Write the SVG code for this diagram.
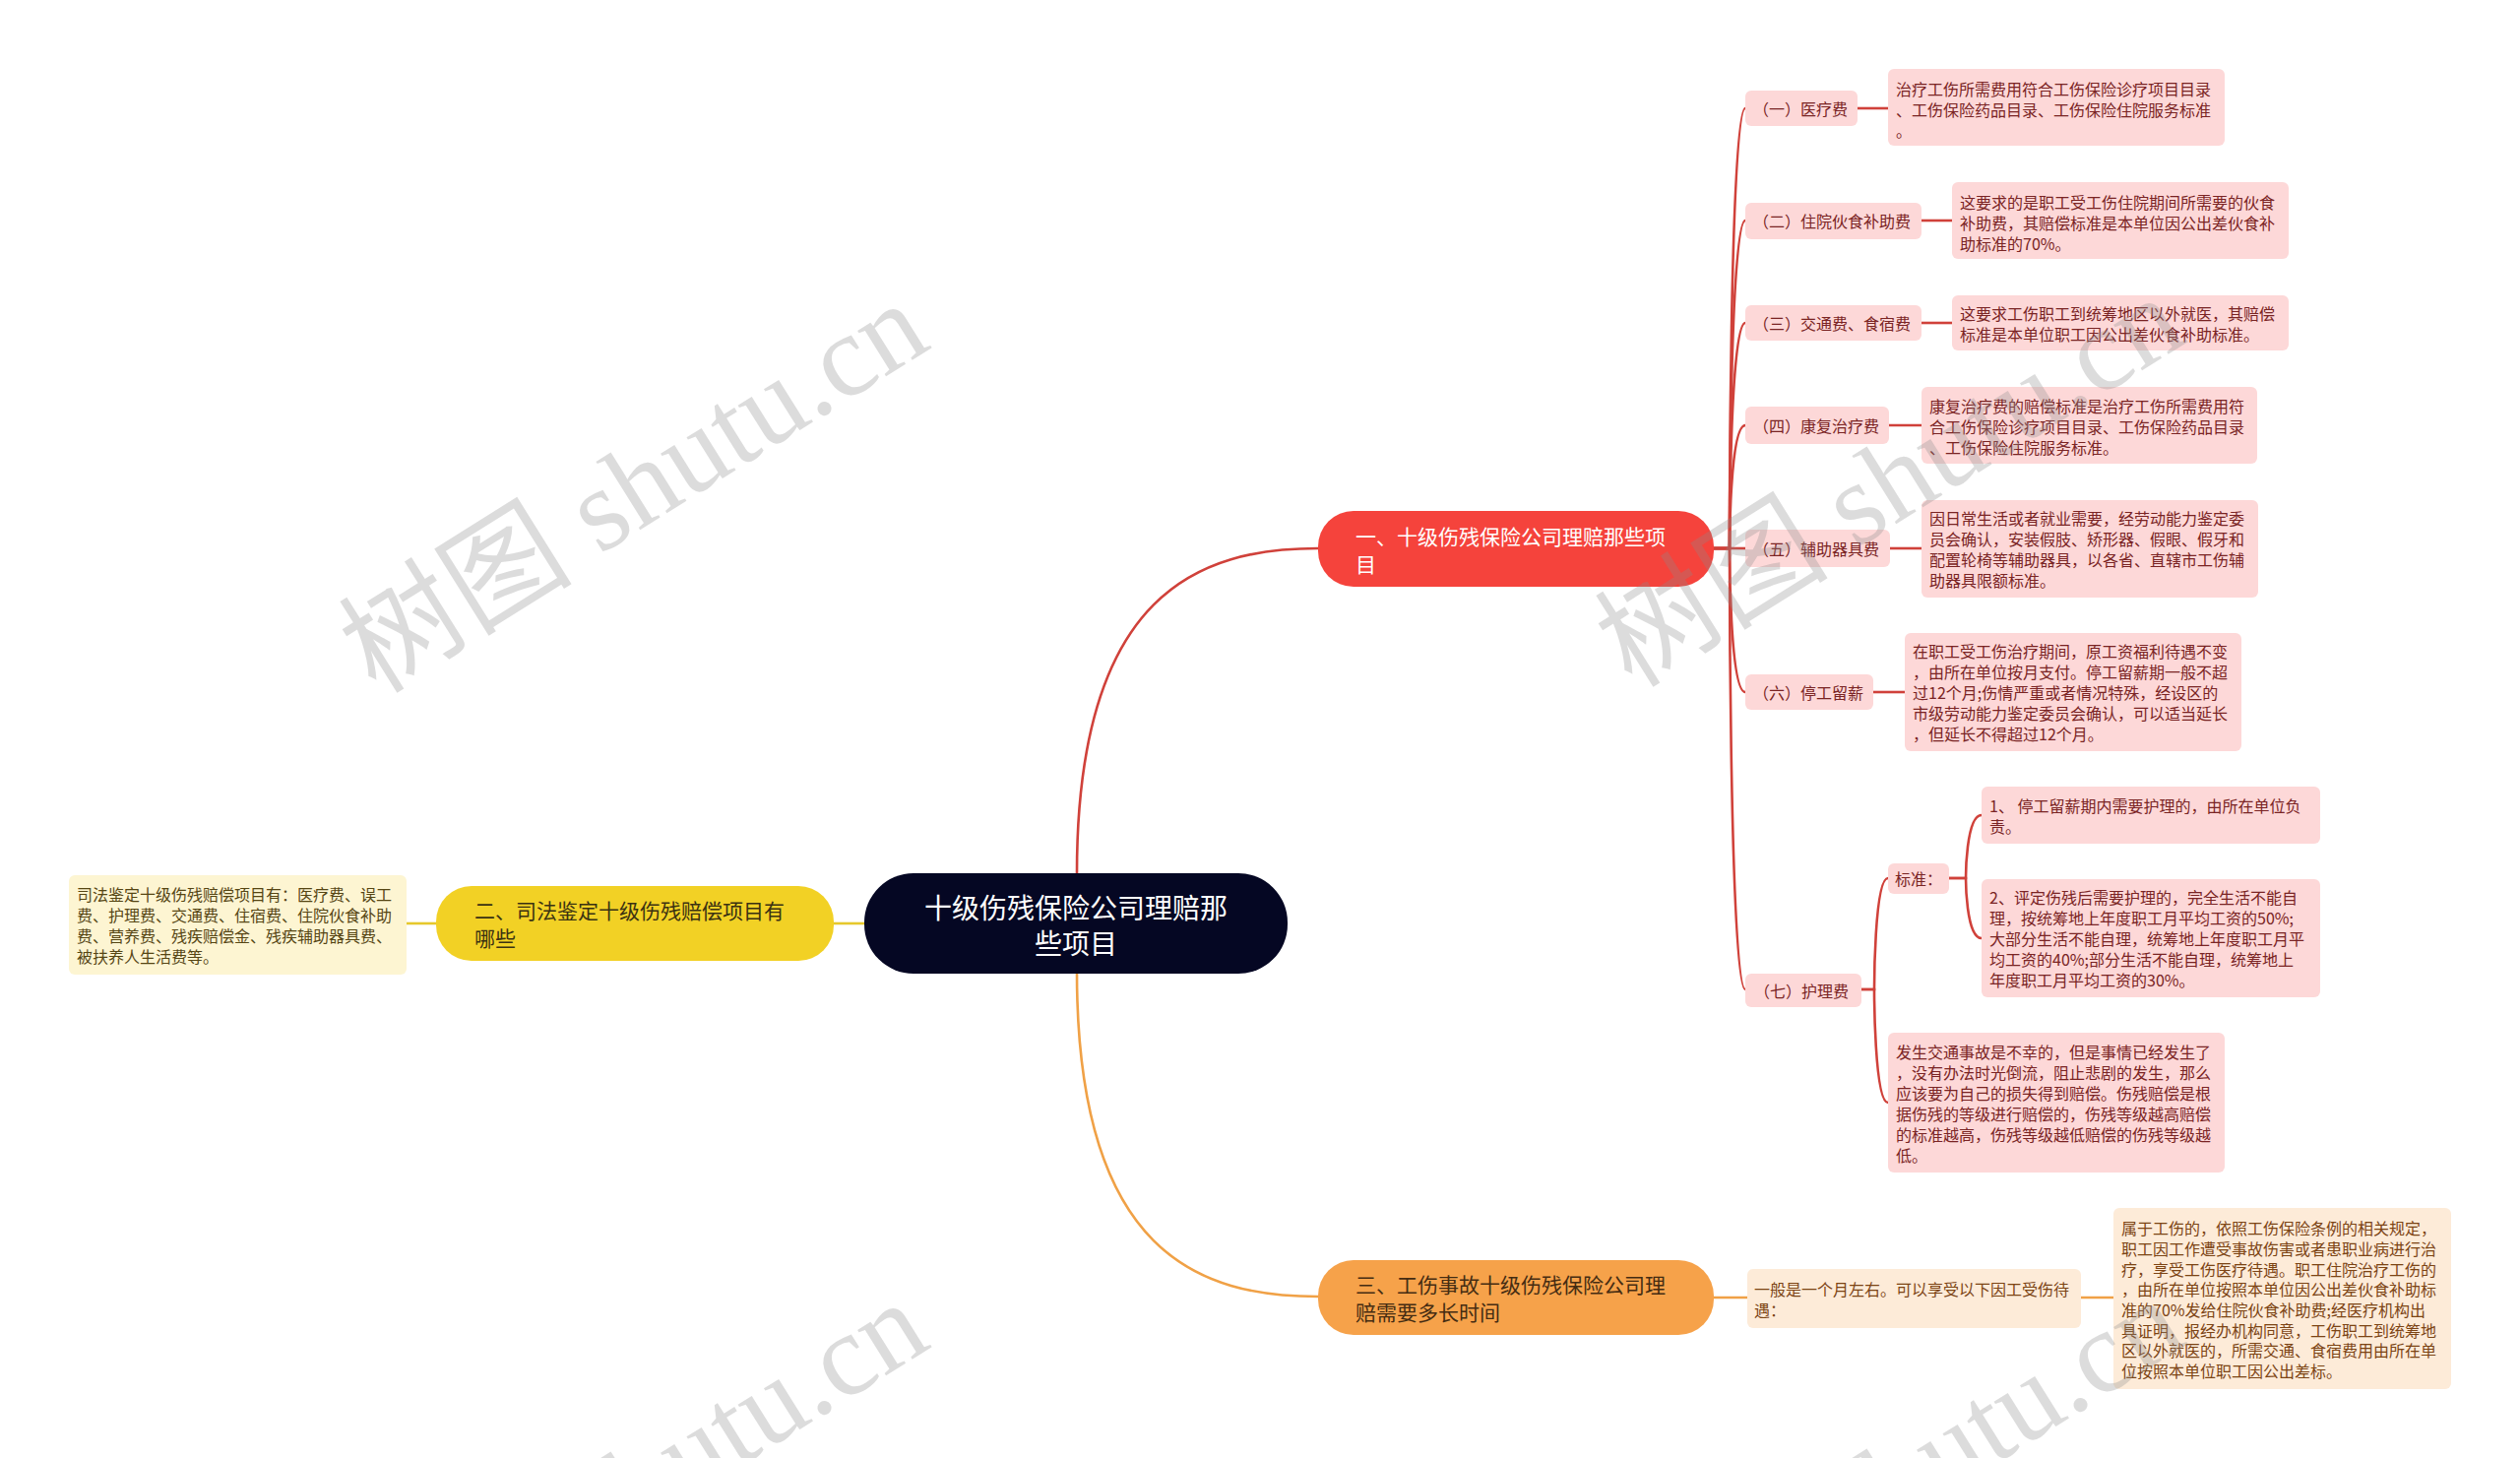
<svg xmlns="http://www.w3.org/2000/svg" width="2560" height="1481" viewBox="0 0 2560 1481">
<style>
text{font-family:"Noto Sans CJK SC","Noto Sans",sans-serif;dominant-baseline:central}
.pk{fill:#fdd8d8}
.pt{fill:#7a2424;font-size:16px}
.yb{fill:#fdf5d2}
.yt{fill:#564614;font-size:16px}
.ob{fill:#fdebd8}
.ot{fill:#7c4414;font-size:16px}
.cr{fill:none;stroke:#d0413a;stroke-width:2.6}
.co{fill:none;stroke:#f0a146;stroke-width:2.6}
.cy{fill:none;stroke:#e6c82c;stroke-width:2.6}
.wm{font-family:"Liberation Serif","Noto Sans CJK SC",serif;font-size:119px;fill:#8a8a8a;fill-opacity:0.3;dominant-baseline:auto}
</style>
<rect width="2560" height="1481" fill="#ffffff"/>
<g id="connectors">
<path class="cr" d="M1094,887 C1094,600 1220,557 1339,557"/>
<path class="co" d="M1094,988 C1094,1275 1220,1317 1339,1317"/>
<path class="cy" d="M878,938 H846"/>
<path class="cy" d="M443,938 H413"/>
<path class="cr" d="M1741,557 H1757 C1757,557 1757,110 1773,110"/>
<path class="cr" d="M1741,557 H1757 C1757,557 1757,224 1773,224"/>
<path class="cr" d="M1741,557 H1757 C1757,557 1757,328 1773,328"/>
<path class="cr" d="M1741,557 H1757 C1757,557 1757,432 1773,432"/>
<path class="cr" d="M1741,557 H1773"/>
<path class="cr" d="M1741,557 H1757 C1757,557 1757,703 1773,703"/>
<path class="cr" d="M1741,557 H1757 C1757,557 1757,1005 1773,1005"/>
<path class="cr" d="M1887,110 H1918"/>
<path class="cr" d="M1952,224 H1983"/>
<path class="cr" d="M1952,328 H1983"/>
<path class="cr" d="M1919,432 H1952"/>
<path class="cr" d="M1920,557 H1952"/>
<path class="cr" d="M1903,703 H1935"/>
<path class="cr" d="M1891,1005 H1904 C1904,1005 1904,892 1918,892"/>
<path class="cr" d="M1891,1005 H1904 C1904,1005 1904,1120 1918,1120"/>
<path class="cr" d="M1980,892 H1997 C1997,892 1997,828 2013,828"/>
<path class="cr" d="M1980,892 H1997 C1997,892 1997,953 2013,953"/>
<path class="co" d="M1740,1318 H1775"/>
<path class="co" d="M2114,1318 H2147"/>
</g>
<g id="root">
<rect x="878" y="887" width="430" height="102" rx="50" fill="#050723"/>
<text x="1093" y="921" text-anchor="middle" fill="#ffffff" style="font-size:28px">十级伤残保险公司理赔那</text>
<text x="1093" y="957" text-anchor="middle" fill="#ffffff" style="font-size:28px">些项目</text>
</g>
<g id="n1">
<rect x="1339" y="519" width="402" height="77" rx="36" fill="#f5433c"/>
<text x="1377" y="544" fill="#ffffff" style="font-size:21px">一、十级伤残保险公司理赔那些项</text>
<text x="1377" y="572" fill="#ffffff" style="font-size:21px">目</text>
</g>
<g id="n2">
<rect x="443" y="900" width="404" height="76" rx="36" fill="#f2d125"/>
<text x="482" y="924" fill="#3b3212" style="font-size:21px">二、司法鉴定十级伤残赔偿项目有</text>
<text x="482" y="952" fill="#3b3212" style="font-size:21px">哪些</text>
</g>
<g id="n3">
<rect x="1339" y="1280" width="402" height="76" rx="36" fill="#f6a24a"/>
<text x="1377" y="1304" fill="#452c12" style="font-size:21px">三、工伤事故十级伤残保险公司理</text>
<text x="1377" y="1332" fill="#452c12" style="font-size:21px">赔需要多长时间</text>
</g>
<g id="n2-detail">
<rect class="yb" x="70" y="889" width="343" height="101" rx="6"/>
<text class="yt" x="78" y="908">司法鉴定十级伤残赔偿项目有：医疗费、误工</text>
<text class="yt" x="78" y="929">费、护理费、交通费、住宿费、住院伙食补助</text>
<text class="yt" x="78" y="950">费、营养费、残疾赔偿金、残疾辅助器具费、</text>
<text class="yt" x="78" y="971">被扶养人生活费等。</text>
</g>
<g id="c1">
<rect class="pk" x="1773" y="92" width="114" height="36" rx="6"/>
<text class="pt" x="1781" y="110">（一）医疗费</text>
</g>
<g id="c1-detail">
<rect class="pk" x="1918" y="70" width="342" height="78" rx="6"/>
<text class="pt" x="1926" y="90">治疗工伤所需费用符合工伤保险诊疗项目目录</text>
<text class="pt" x="1926" y="111">、工伤保险药品目录、工伤保险住院服务标准</text>
<text class="pt" x="1926" y="132">。</text>
</g>
<g id="c2">
<rect class="pk" x="1773" y="206" width="179" height="37" rx="6"/>
<text class="pt" x="1781" y="224">（二）住院伙食补助费</text>
</g>
<g id="c2-detail">
<rect class="pk" x="1983" y="185" width="342" height="78" rx="6"/>
<text class="pt" x="1991" y="205">这要求的是职工受工伤住院期间所需要的伙食</text>
<text class="pt" x="1991" y="226">补助费，其赔偿标准是本单位因公出差伙食补</text>
<text class="pt" x="1991" y="247">助标准的70%。</text>
</g>
<g id="c3">
<rect class="pk" x="1773" y="310" width="179" height="36" rx="6"/>
<text class="pt" x="1781" y="328">（三）交通费、食宿费</text>
</g>
<g id="c3-detail">
<rect class="pk" x="1983" y="300" width="342" height="56" rx="6"/>
<text class="pt" x="1991" y="318">这要求工伤职工到统筹地区以外就医，其赔偿</text>
<text class="pt" x="1991" y="339">标准是本单位职工因公出差伙食补助标准。</text>
</g>
<g id="c4">
<rect class="pk" x="1773" y="413" width="146" height="38" rx="6"/>
<text class="pt" x="1781" y="432">（四）康复治疗费</text>
</g>
<g id="c4-detail">
<rect class="pk" x="1952" y="393" width="341" height="78" rx="6"/>
<text class="pt" x="1960" y="412">康复治疗费的赔偿标准是治疗工伤所需费用符</text>
<text class="pt" x="1960" y="433">合工伤保险诊疗项目目录、工伤保险药品目录</text>
<text class="pt" x="1960" y="454">、工伤保险住院服务标准。</text>
</g>
<g id="c5">
<rect class="pk" x="1773" y="538" width="147" height="38" rx="6"/>
<text class="pt" x="1781" y="557">（五）辅助器具费</text>
</g>
<g id="c5-detail">
<rect class="pk" x="1952" y="508" width="342" height="99" rx="6"/>
<text class="pt" x="1960" y="526">因日常生活或者就业需要，经劳动能力鉴定委</text>
<text class="pt" x="1960" y="547">员会确认，安装假肢、矫形器、假眼、假牙和</text>
<text class="pt" x="1960" y="568">配置轮椅等辅助器具，以各省、直辖市工伤辅</text>
<text class="pt" x="1960" y="589">助器具限额标准。</text>
</g>
<g id="c6">
<rect class="pk" x="1773" y="685" width="130" height="36" rx="6"/>
<text class="pt" x="1781" y="703">（六）停工留薪</text>
</g>
<g id="c6-detail">
<rect class="pk" x="1935" y="643" width="342" height="120" rx="6"/>
<text class="pt" x="1943" y="661">在职工受工伤治疗期间，原工资福利待遇不变</text>
<text class="pt" x="1943" y="682">，由所在单位按月支付。停工留薪期一般不超</text>
<text class="pt" x="1943" y="703">过12个月;伤情严重或者情况特殊，经设区的</text>
<text class="pt" x="1943" y="724">市级劳动能力鉴定委员会确认，可以适当延长</text>
<text class="pt" x="1943" y="745">，但延长不得超过12个月。</text>
</g>
<g id="c7">
<rect class="pk" x="1773" y="989" width="118" height="34" rx="6"/>
<text class="pt" x="1782" y="1006">（七）护理费</text>
</g>
<g id="c7-standard">
<rect class="pk" x="1918" y="877" width="62" height="31" rx="6"/>
<text class="pt" x="1925" y="892">标准：</text>
</g>
<g id="c7-standard-1">
<rect class="pk" x="2013" y="799" width="344" height="58" rx="6"/>
<text class="pt" x="2021" y="818">1、 停工留薪期内需要护理的，由所在单位负</text>
<text class="pt" x="2021" y="839">责。</text>
</g>
<g id="c7-standard-2">
<rect class="pk" x="2013" y="893" width="344" height="120" rx="6"/>
<text class="pt" x="2021" y="911">2、评定伤残后需要护理的，完全生活不能自</text>
<text class="pt" x="2021" y="932">理，按统筹地上年度职工月平均工资的50%;</text>
<text class="pt" x="2021" y="953">大部分生活不能自理，统筹地上年度职工月平</text>
<text class="pt" x="2021" y="974">均工资的40%;部分生活不能自理，统筹地上</text>
<text class="pt" x="2021" y="995">年度职工月平均工资的30%。</text>
</g>
<g id="c7-detail">
<rect class="pk" x="1918" y="1049" width="342" height="142" rx="6"/>
<text class="pt" x="1926" y="1068">发生交通事故是不幸的，但是事情已经发生了</text>
<text class="pt" x="1926" y="1089">，没有办法时光倒流，阻止悲剧的发生，那么</text>
<text class="pt" x="1926" y="1110">应该要为自己的损失得到赔偿。伤残赔偿是根</text>
<text class="pt" x="1926" y="1131">据伤残的等级进行赔偿的，伤残等级越高赔偿</text>
<text class="pt" x="1926" y="1152">的标准越高，伤残等级越低赔偿的伤残等级越</text>
<text class="pt" x="1926" y="1173">低。</text>
</g>
<g id="n3-a">
<rect class="ob" x="1775" y="1289" width="339" height="60" rx="6"/>
<text class="ot" x="1782" y="1309">一般是一个月左右。可以享受以下因工受伤待</text>
<text class="ot" x="1782" y="1330">遇：</text>
</g>
<g id="n3-b">
<rect class="ob" x="2147" y="1227" width="343" height="184" rx="6"/>
<text class="ot" x="2155" y="1247">属于工伤的，依照工伤保险条例的相关规定，</text>
<text class="ot" x="2155" y="1268">职工因工作遭受事故伤害或者患职业病进行治</text>
<text class="ot" x="2155" y="1289">疗，享受工伤医疗待遇。职工住院治疗工伤的</text>
<text class="ot" x="2155" y="1309">，由所在单位按照本单位因公出差伙食补助标</text>
<text class="ot" x="2155" y="1330">准的70%发给住院伙食补助费;经医疗机构出</text>
<text class="ot" x="2155" y="1351">具证明，报经办机构同意，工伤职工到统筹地</text>
<text class="ot" x="2155" y="1371">区以外就医的，所需交通、食宿费用由所在单</text>
<text class="ot" x="2155" y="1392">位按照本单位职工因公出差标。</text>
</g>
<g id="watermark">
<text class="wm" transform="translate(382,706) rotate(-32)">树图 shutu.cn</text>
<text class="wm" transform="translate(1658,700) rotate(-32)">树图 shutu.cn</text>
<text class="wm" transform="translate(382,1721) rotate(-32)">树图 shutu.cn</text>
<text class="wm" transform="translate(1658,1718) rotate(-32)">树图 shutu.cn</text>
</g>
</svg>
